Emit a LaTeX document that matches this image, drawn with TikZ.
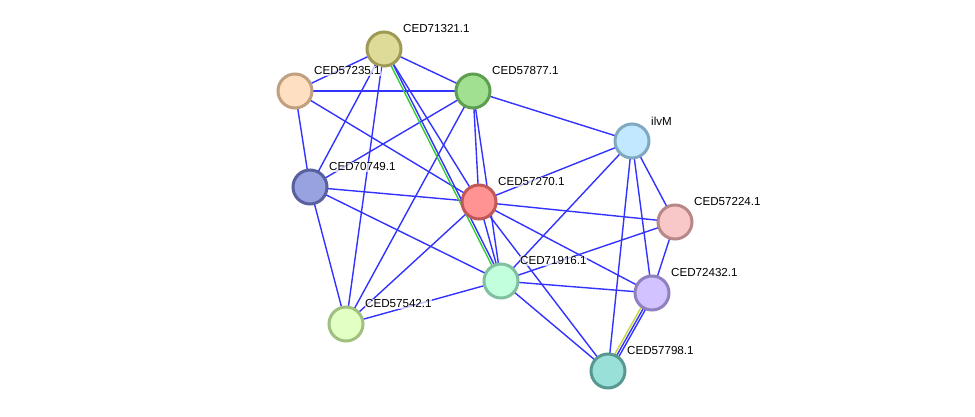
\documentclass[tikz,border=0pt]{standalone}
\usepackage{fontspec}
\setmainfont{Liberation Sans}
\usetikzlibrary{calc}
\pgfdeclarelayer{background}
\pgfsetlayers{background,main}
\definecolor{EdgeBlue}{HTML}{3333FF}
\definecolor{EdgeGreen}{HTML}{33CC33}
\definecolor{EdgeYellow}{HTML}{C8D832}
\definecolor{OliveFill}{HTML}{DEDB99}
\definecolor{OliveRim}{HTML}{9E9A55}
\definecolor{PeachFill}{HTML}{FFDFC2}
\definecolor{PeachRim}{HTML}{C0A080}
\definecolor{LeafFill}{HTML}{A0E090}
\definecolor{LeafRim}{HTML}{5E9E50}
\definecolor{SkyFill}{HTML}{C2E8FF}
\definecolor{SkyRim}{HTML}{80A8C0}
\definecolor{IndigoFill}{HTML}{98A2E0}
\definecolor{IndigoRim}{HTML}{58609E}
\definecolor{RoseFill}{HTML}{FF9292}
\definecolor{RoseRim}{HTML}{C05858}
\definecolor{BlushFill}{HTML}{F8C8C8}
\definecolor{BlushRim}{HTML}{B88888}
\definecolor{MintFill}{HTML}{C2FFDC}
\definecolor{MintRim}{HTML}{80C0A0}
\definecolor{LilacFill}{HTML}{D2C2FF}
\definecolor{LilacRim}{HTML}{9080C0}
\definecolor{LimeFill}{HTML}{E2FFC4}
\definecolor{LimeRim}{HTML}{A0C080}
\definecolor{TealFill}{HTML}{98E0D8}
\definecolor{TealRim}{HTML}{589890}

\begin{document}
\begin{tikzpicture}[x=1pt, y=-1pt,
    protein/.style={circle, line width=3pt, minimum size=34pt, inner sep=0pt},
    link/.style={EdgeBlue, line width=1.4pt},
    tag/.style={anchor=west, font=\fontsize{11.6}{13}\selectfont, inner sep=0.5pt, fill=white, fill opacity=0.7, text opacity=1}]
    \useasboundingbox (0,0) rectangle (975,417);

    % proteins
    \node[protein, draw=OliveRim, fill=OliveFill] (c71321) at (384,49) {};
    \node[protein, draw=PeachRim, fill=PeachFill] (c57235) at (295,91) {};
    \node[protein, draw=LeafRim, fill=LeafFill] (c57877) at (473,91) {};
    \node[protein, draw=SkyRim, fill=SkyFill] (ilvm) at (632,141) {};
    \node[protein, draw=IndigoRim, fill=IndigoFill] (c70749) at (310,187) {};
    \node[protein, draw=RoseRim, fill=RoseFill] (c57270) at (479,202) {};
    \node[protein, draw=BlushRim, fill=BlushFill] (c57224) at (675,222) {};
    \node[protein, draw=MintRim, fill=MintFill] (c71916) at (501,281) {};
    \node[protein, draw=LilacRim, fill=LilacFill] (c72432) at (652,293) {};
    \node[protein, draw=LimeRim, fill=LimeFill] (c57542) at (346,324) {};
    \node[protein, draw=TealRim, fill=TealFill] (c57798) at (608,371) {};

    % interactions
    \begin{pgfonlayer}{background}
    \foreach \a/\b in {c71321/c57235, c71321/c57877, c71321/c70749, c71321/c57542, c71321/c57270,
        c57235/c57877, c57235/c70749, c57235/c57270,
        c57877/c70749, c57877/c57542, c57877/c57270, c57877/c71916, c57877/ilvm,
        c70749/c57270, c70749/c71916, c70749/c57542,
        c57270/ilvm, c57270/c57224, c57270/c71916, c57270/c72432, c57270/c57798, c57270/c57542,
        c71916/ilvm, c71916/c57224, c71916/c72432, c71916/c57798, c71916/c57542,
        ilvm/c57224, ilvm/c72432, ilvm/c57798, c72432/c57224}
      \draw[link] (\a.center) -- (\b.center);
    % double evidence
    \draw[link] ($(c71321.center)!1.2pt!90:(c71916.center)$) -- ($(c71916.center)!1.2pt!-90:(c71321.center)$);
    \draw[link, EdgeGreen] ($(c71321.center)!1.2pt!-90:(c71916.center)$) -- ($(c71916.center)!1.2pt!90:(c71321.center)$);
    \draw[link] ($(c72432.center)!2.4pt!90:(c57798.center)$) -- ($(c57798.center)!2.4pt!-90:(c72432.center)$);
    \draw[link] (c72432.center) -- (c57798.center);
    \draw[link, EdgeYellow] ($(c72432.center)!2.4pt!-90:(c57798.center)$) -- ($(c57798.center)!2.4pt!90:(c72432.center)$);
    \end{pgfonlayer}

    % labels
    \node[tag] at ($(c71321)+(18.5,-20)$) {CED71321.1};
    \node[tag] at ($(c57235)+(18.5,-20)$) {CED57235.1};
    \node[tag] at ($(c57877)+(18.5,-20)$) {CED57877.1};
    \node[tag] at ($(ilvm)+(18.5,-20)$) {ilvM};
    \node[tag] at ($(c70749)+(18.5,-20)$) {CED70749.1};
    \node[tag] at ($(c57270)+(18.5,-20)$) {CED57270.1};
    \node[tag] at ($(c57224)+(18.5,-20)$) {CED57224.1};
    \node[tag] at ($(c71916)+(18.5,-20)$) {CED71916.1};
    \node[tag] at ($(c72432)+(18.5,-20)$) {CED72432.1};
    \node[tag] at ($(c57542)+(18.5,-20)$) {CED57542.1};
    \node[tag] at ($(c57798)+(18.5,-20)$) {CED57798.1};
  \end{tikzpicture}
\end{document}
